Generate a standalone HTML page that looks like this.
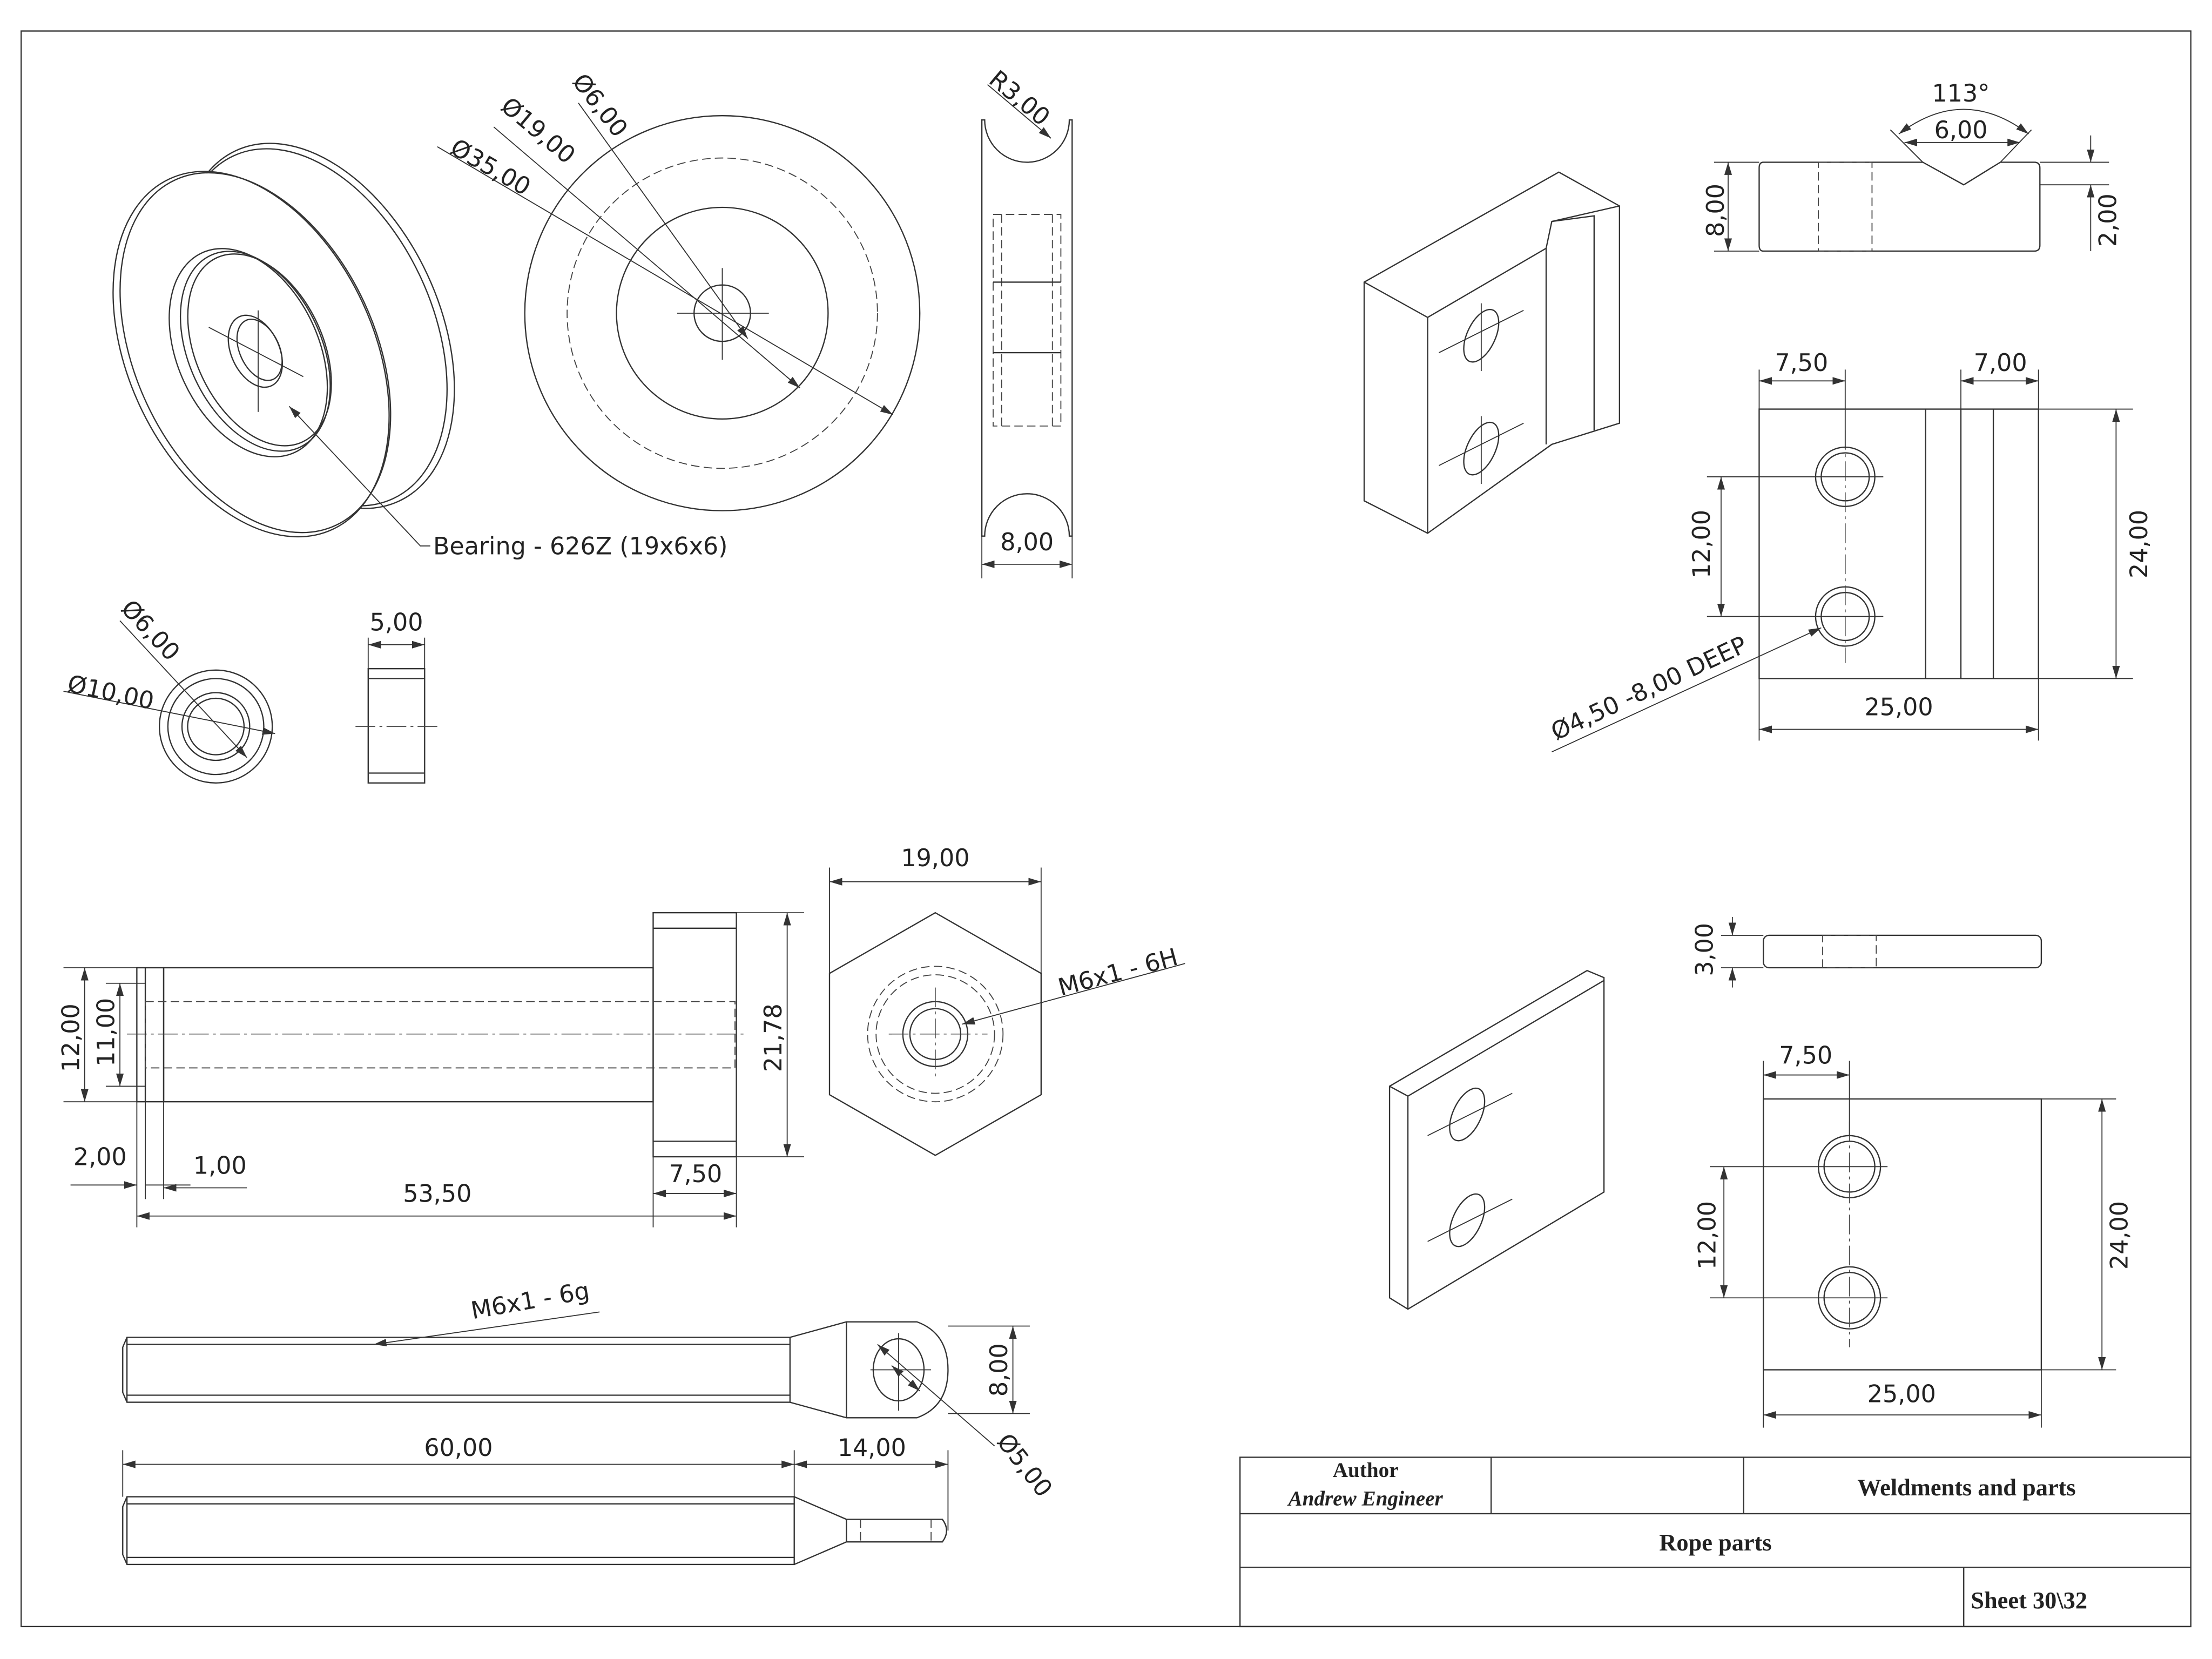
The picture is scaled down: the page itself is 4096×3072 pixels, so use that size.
<!DOCTYPE html>
<html><head><meta charset="utf-8"><style>
html,body{margin:0;padding:0;background:#fff;}
svg{display:block;}
text{font-family:"DejaVu Sans","Liberation Sans",sans-serif;font-size:17px;fill:#222;}
.t{font-family:"Liberation Serif",serif;font-weight:bold;font-size:17px;}
.s{fill:none;stroke:#333;stroke-width:0.9;}
.w{fill:#fff;stroke:#333;stroke-width:0.9;}
.d{fill:none;stroke:#333;stroke-width:0.7;}
.h{fill:none;stroke:#444;stroke-width:0.7;stroke-dasharray:6 3;}
.c{fill:none;stroke:#444;stroke-width:0.6;stroke-dasharray:14 3 2 3;}
</style></head><body>
<svg width="4096" height="3072" viewBox="0 0 1568 1176" xmlns="http://www.w3.org/2000/svg">
<defs><marker id="a" viewBox="0 0 10 10" refX="10" refY="5" markerWidth="9" markerHeight="9" orient="auto-start-reverse" markerUnits="userSpaceOnUse"><path d="M0,2 L10,5 L0,8z" fill="#333"/></marker></defs>
<rect x="0" y="0" width="1568" height="1176" fill="#fff"/>
<rect x="15" y="22" width="1538" height="1131" class="s"/>
<!-- title block -->
<rect x="879" y="1033" width="674" height="120" class="s"/>
<line x1="879" y1="1073" x2="1553" y2="1073" class="s"/>
<line x1="879" y1="1111" x2="1553" y2="1111" class="s"/>
<line x1="1057" y1="1033" x2="1057" y2="1073" class="s"/>
<line x1="1236" y1="1033" x2="1236" y2="1073" class="s"/>
<line x1="1392" y1="1111" x2="1392" y2="1153" class="s"/>
<text x="968" y="1047" text-anchor="middle" class="t" style="font-size:15px">Author</text>
<text x="968" y="1067" text-anchor="middle" class="t" style="font-size:15px;font-style:italic">Andrew Engineer</text>
<text x="1394" y="1060" text-anchor="middle" class="t">Weldments and parts</text>
<text x="1216" y="1099" text-anchor="middle" class="t">Rope parts</text>
<text x="1397" y="1140" class="t">Sheet  30\32</text>

<!-- pulley iso -->
<ellipse cx="225" cy="231" rx="137" ry="86" transform="rotate(65 225 231)" class="w"/>
<ellipse cx="222" cy="232" rx="134" ry="84" transform="rotate(65 222 232)" class="s"/>
<ellipse cx="178" cy="251" rx="137" ry="87" transform="rotate(65 178 251)" class="w"/>
<ellipse cx="181" cy="250" rx="135" ry="85" transform="rotate(65 181 250)" class="s"/>
<ellipse cx="176" cy="250" rx="78" ry="50" transform="rotate(65 176 250)" class="s"/>
<ellipse cx="181" cy="249" rx="75" ry="47" transform="rotate(65 181 249)" class="s"/>
<ellipse cx="184" cy="248" rx="72" ry="45" transform="rotate(65 184 248)" class="s"/>
<ellipse cx="181" cy="249" rx="27" ry="17" transform="rotate(65 181 249)" class="s"/>
<ellipse cx="184" cy="248" rx="23" ry="14" transform="rotate(65 184 248)" class="s"/>
<line x1="148" y1="232" x2="215" y2="267" class="d"/>
<line x1="183" y1="220" x2="183" y2="292" class="d"/>
<polyline points="205,288 298,387 305,387" class="d" marker-start="url(#a)"/>
<text x="307" y="393">Bearing - 626Z (19x6x6)</text>

<!-- pulley front -->
<circle cx="512" cy="222" r="140" class="s"/>
<circle cx="512" cy="222" r="110" class="h"/>
<circle cx="512" cy="222" r="75" class="s"/>
<circle cx="512" cy="222" r="20" class="s"/>
<line x1="480" y1="222" x2="545" y2="222" class="d"/>
<line x1="512" y1="190" x2="512" y2="255" class="d"/>
<line x1="310" y1="104" x2="633" y2="294" class="d" marker-end="url(#a)"/>
<line x1="350" y1="90" x2="567" y2="275" class="d" marker-end="url(#a)"/>
<line x1="410" y1="73" x2="530" y2="240" class="d" marker-end="url(#a)"/>
<text transform="translate(318,108) rotate(30)">Ø35,00</text>
<text transform="translate(354,77) rotate(40)">Ø19,00</text>
<text transform="translate(405,58) rotate(52)">Ø6,00</text>

<!-- pulley side -->
<path d="M696,85 L698,85 A30,30 0 0 0 758,85 L760,85 L760,380 L758,380 A30,30 0 0 0 698,380 L696,380 Z" class="s"/>
<rect x="704" y="152" width="48" height="150" class="h"/>
<line x1="710" y1="152" x2="710" y2="302" class="h"/>
<line x1="746" y1="152" x2="746" y2="302" class="h"/>
<line x1="704" y1="200" x2="752" y2="200" class="s"/>
<line x1="704" y1="250" x2="752" y2="250" class="s"/>
<line x1="696" y1="380" x2="696" y2="410" class="d"/><line x1="760" y1="380" x2="760" y2="410" class="d"/>
<line x1="696" y1="400" x2="760" y2="400" class="d" marker-start="url(#a)" marker-end="url(#a)"/>
<text x="728" y="390" text-anchor="middle">8,00</text>
<line x1="700" y1="60" x2="745" y2="98" class="d" marker-end="url(#a)"/>
<text transform="translate(700,58) rotate(40)">R3,00</text>

<!-- bearing -->
<circle cx="153" cy="515" r="40" class="s"/>
<circle cx="153" cy="515" r="34" class="s"/>
<circle cx="153" cy="515" r="24" class="s"/>
<circle cx="153" cy="515" r="20" class="s"/>
<line x1="45" y1="490" x2="195" y2="520" class="d" marker-end="url(#a)"/>
<line x1="85" y1="440" x2="175" y2="537" class="d" marker-end="url(#a)"/>
<text transform="translate(47,490) rotate(12)">Ø10,00</text>
<text transform="translate(85,432) rotate(47)">Ø6,00</text>
<rect x="261" y="474" width="40" height="81" class="s"/>
<line x1="261" y1="481" x2="301" y2="481" class="s"/><line x1="261" y1="548" x2="301" y2="548" class="s"/>
<line x1="252" y1="515" x2="310" y2="515" class="c"/>
<line x1="261" y1="474" x2="261" y2="452" class="d"/><line x1="301" y1="474" x2="301" y2="452" class="d"/>
<line x1="261" y1="457" x2="301" y2="457" class="d" marker-start="url(#a)" marker-end="url(#a)"/>
<text x="281" y="447" text-anchor="middle">5,00</text>

<!-- block iso -->
<polygon points="967,200 1105,122 1148,146 1148,300 1100,315 1012,378 967,355" class="s"/>
<polyline points="967,200 1012,225 1012,378" class="s"/>
<polyline points="1012,225 1096,176 1100,157 1148,146" class="s"/>
<polyline points="1096,176 1096,315" class="s"/>
<polyline points="1100,157 1130,153 1130,305" class="s"/>
<ellipse cx="1050" cy="238" rx="10" ry="20" transform="rotate(25 1050 238)" class="s"/>
<ellipse cx="1050" cy="318" rx="10" ry="20" transform="rotate(25 1050 318)" class="s"/>
<line x1="1020" y1="250" x2="1080" y2="220" class="d"/><line x1="1050" y1="215" x2="1050" y2="263" class="d"/>
<line x1="1020" y1="330" x2="1080" y2="300" class="d"/><line x1="1050" y1="295" x2="1050" y2="343" class="d"/>

<!-- block top -->
<path d="M1250,115 L1363,115 L1392,131 L1418,115 L1442,115 Q1446,115 1446,119 L1446,174 Q1446,178 1442,178 L1250,178 Q1247,178 1247,174 L1247,119 Q1247,115 1250,115Z" class="s"/>
<rect x="1289" y="115" width="38" height="63" class="h"/>
<line x1="1247" y1="115" x2="1215" y2="115" class="d"/><line x1="1247" y1="178" x2="1215" y2="178" class="d"/>
<line x1="1225" y1="115" x2="1225" y2="178" class="d" marker-start="url(#a)" marker-end="url(#a)"/>
<text transform="translate(1222,168) rotate(-90)">8,00</text>
<line x1="1446" y1="115" x2="1495" y2="115" class="d"/><line x1="1446" y1="131" x2="1495" y2="131" class="d"/>
<line x1="1482" y1="96" x2="1482" y2="115" class="d" marker-end="url(#a)"/><line x1="1482" y1="178" x2="1482" y2="131" class="d" marker-end="url(#a)"/>
<text transform="translate(1500,175) rotate(-90)">2,00</text>
<line x1="1363" y1="115" x2="1340" y2="92" class="d"/><line x1="1418" y1="115" x2="1440" y2="92" class="d"/>
<line x1="1350" y1="101" x2="1432" y2="101" class="d" marker-start="url(#a)" marker-end="url(#a)"/>
<path d="M1346,95 Q1392,60 1438,95" class="d" marker-start="url(#a)" marker-end="url(#a)"/>
<text x="1390" y="98" text-anchor="middle">6,00</text>
<text x="1390" y="72" text-anchor="middle">113°</text>

<!-- block front -->
<rect x="1247" y="290" width="198" height="191" class="s"/>
<line x1="1365" y1="290" x2="1365" y2="481" class="s"/><line x1="1390" y1="290" x2="1390" y2="481" class="s"/><line x1="1413" y1="290" x2="1413" y2="481" class="s"/>
<circle cx="1308" cy="338" r="21" class="s"/><circle cx="1308" cy="338" r="17" class="s"/>
<circle cx="1308" cy="437" r="21" class="s"/><circle cx="1308" cy="437" r="17" class="s"/>
<line x1="1308" y1="305" x2="1308" y2="470" class="c"/>
<line x1="1210" y1="338" x2="1335" y2="338" class="d"/><line x1="1210" y1="437" x2="1335" y2="437" class="d"/>
<line x1="1220" y1="338" x2="1220" y2="437" class="d" marker-start="url(#a)" marker-end="url(#a)"/>
<text transform="translate(1212,410) rotate(-90)">12,00</text>
<line x1="1247" y1="290" x2="1247" y2="262" class="d"/><line x1="1308" y1="318" x2="1308" y2="262" class="d"/>
<line x1="1247" y1="270" x2="1308" y2="270" class="d" marker-start="url(#a)" marker-end="url(#a)"/>
<text x="1277" y="263" text-anchor="middle">7,50</text>
<line x1="1390" y1="290" x2="1390" y2="262" class="d"/><line x1="1445" y1="290" x2="1445" y2="262" class="d"/>
<line x1="1390" y1="270" x2="1445" y2="270" class="d" marker-start="url(#a)" marker-end="url(#a)"/>
<text x="1418" y="263" text-anchor="middle">7,00</text>
<line x1="1445" y1="290" x2="1512" y2="290" class="d"/><line x1="1445" y1="481" x2="1512" y2="481" class="d"/>
<line x1="1500" y1="290" x2="1500" y2="481" class="d" marker-start="url(#a)" marker-end="url(#a)"/>
<text transform="translate(1522,410) rotate(-90)">24,00</text>
<line x1="1247" y1="481" x2="1247" y2="525" class="d"/><line x1="1445" y1="481" x2="1445" y2="525" class="d"/>
<line x1="1247" y1="517" x2="1445" y2="517" class="d" marker-start="url(#a)" marker-end="url(#a)"/>
<text x="1346" y="507" text-anchor="middle">25,00</text>
<line x1="1100" y1="533" x2="1291" y2="445" class="d" marker-end="url(#a)"/>
<text transform="translate(1103,525) rotate(-25)">Ø4,50 -8,00 DEEP</text>

<!-- axle -->
<rect x="463" y="647" width="59" height="173" class="s"/>
<line x1="463" y1="658" x2="522" y2="658" class="s"/><line x1="463" y1="809" x2="522" y2="809" class="s"/>
<rect x="116" y="686" width="347" height="95" class="s"/>
<rect x="97" y="686" width="19" height="95" class="s"/>
<line x1="103" y1="686" x2="103" y2="781" class="s"/>
<rect x="103" y="710" width="418" height="47" class="h"/>
<line x1="90" y1="733" x2="530" y2="733" class="c"/>
<line x1="97" y1="686" x2="45" y2="686" class="d"/><line x1="97" y1="781" x2="45" y2="781" class="d"/>
<line x1="60" y1="686" x2="60" y2="781" class="d" marker-start="url(#a)" marker-end="url(#a)"/>
<text transform="translate(56,760) rotate(-90)">12,00</text>
<line x1="103" y1="697" x2="75" y2="697" class="d"/><line x1="103" y1="770" x2="75" y2="770" class="d"/>
<line x1="85" y1="697" x2="85" y2="770" class="d" marker-start="url(#a)" marker-end="url(#a)"/>
<text transform="translate(81,756) rotate(-90)">11,00</text>
<line x1="522" y1="647" x2="570" y2="647" class="d"/><line x1="522" y1="820" x2="570" y2="820" class="d"/>
<line x1="558" y1="647" x2="558" y2="820" class="d" marker-start="url(#a)" marker-end="url(#a)"/>
<text transform="translate(554,760) rotate(-90)">21,78</text>
<line x1="97" y1="781" x2="97" y2="870" class="d"/><line x1="103" y1="781" x2="103" y2="850" class="d"/><line x1="116" y1="781" x2="116" y2="850" class="d"/>
<line x1="463" y1="820" x2="463" y2="870" class="d"/><line x1="522" y1="820" x2="522" y2="870" class="d"/>
<line x1="50" y1="840" x2="97" y2="840" class="d" marker-end="url(#a)"/><line x1="135" y1="840" x2="103" y2="840" class="d"/>
<line x1="175" y1="842" x2="116" y2="842" class="d" marker-end="url(#a)"/>
<text x="52" y="826">2,00</text><text x="137" y="832">1,00</text>
<line x1="463" y1="846" x2="522" y2="846" class="d" marker-start="url(#a)" marker-end="url(#a)"/>
<text x="493" y="838" text-anchor="middle">7,50</text>
<line x1="97" y1="862" x2="522" y2="862" class="d" marker-start="url(#a)" marker-end="url(#a)"/>
<text x="310" y="852" text-anchor="middle">53,50</text>

<!-- hex -->
<polygon points="663,647 738,690 738,776 663,819 588,776 588,690" class="s"/>
<circle cx="663" cy="733" r="48" class="h"/><circle cx="663" cy="733" r="42" class="h"/>
<circle cx="663" cy="733" r="23" class="s"/><circle cx="663" cy="733" r="18" class="s"/>
<line x1="630" y1="733" x2="700" y2="733" class="c"/><line x1="663" y1="700" x2="663" y2="766" class="c"/>
<line x1="588" y1="690" x2="588" y2="615" class="d"/><line x1="738" y1="690" x2="738" y2="615" class="d"/>
<line x1="588" y1="625" x2="738" y2="625" class="d" marker-start="url(#a)" marker-end="url(#a)"/>
<text x="663" y="614" text-anchor="middle">19,00</text>
<line x1="840" y1="683" x2="682" y2="726" class="d" marker-end="url(#a)"/>
<text transform="translate(752,706) rotate(-15)">M6x1 - 6H</text>

<!-- rod top -->
<path d="M90,948 L560,948 L560,994 L90,994 L87,987 L87,955 Z" class="s"/>
<line x1="90" y1="948" x2="90" y2="994" class="s"/>
<line x1="90" y1="953" x2="560" y2="953" class="s"/><line x1="90" y1="989" x2="560" y2="989" class="s"/>
<path d="M560,948 L600,937 L650,937 Q672,945 672,971 Q672,997 650,1005 L600,1005 L560,994" class="s"/>
<line x1="600" y1="937" x2="600" y2="1005" class="s"/>
<ellipse cx="637" cy="971" rx="18" ry="22" class="s"/>
<line x1="617" y1="971" x2="660" y2="971" class="d"/><line x1="637" y1="945" x2="637" y2="1000" class="d"/>
<line x1="425" y1="930" x2="265" y2="953" class="d" marker-end="url(#a)"/>
<text transform="translate(335,935) rotate(-10)">M6x1 - 6g</text>
<line x1="672" y1="940" x2="730" y2="940" class="d"/><line x1="672" y1="1002" x2="730" y2="1002" class="d"/>
<line x1="718" y1="940" x2="718" y2="1002" class="d" marker-start="url(#a)" marker-end="url(#a)"/>
<text transform="translate(714,990) rotate(-90)">8,00</text>
<line x1="622" y1="953" x2="705" y2="1025" class="d" marker-start="url(#a)"/>
<line x1="652" y1="986" x2="632" y2="968" class="d" marker-end="url(#a)" marker-start="url(#a)"/>
<text transform="translate(706,1022) rotate(52)">Ø5,00</text>
<!-- rod side -->
<path d="M90,1061 L563,1061 L563,1109 L90,1109 L87,1102 L87,1068 Z" class="s"/>
<line x1="90" y1="1061" x2="90" y2="1109" class="s"/>
<line x1="90" y1="1066" x2="563" y2="1066" class="s"/><line x1="90" y1="1104" x2="563" y2="1104" class="s"/>
<path d="M563,1061 L600,1077 L668,1077 Q674,1085 668,1093 L600,1093 L563,1109" class="s"/>
<line x1="600" y1="1077" x2="600" y2="1093" class="s"/>
<line x1="610" y1="1077" x2="610" y2="1093" class="h"/><line x1="660" y1="1077" x2="660" y2="1093" class="h"/>
<line x1="87" y1="1061" x2="87" y2="1028" class="d"/><line x1="563" y1="1061" x2="563" y2="1028" class="d"/><line x1="672" y1="1085" x2="672" y2="1028" class="d"/>
<line x1="87" y1="1038" x2="563" y2="1038" class="d" marker-start="url(#a)" marker-end="url(#a)"/>
<line x1="563" y1="1038" x2="672" y2="1038" class="d" marker-start="url(#a)" marker-end="url(#a)"/>
<text x="325" y="1032" text-anchor="middle">60,00</text><text x="618" y="1032" text-anchor="middle">14,00</text>

<!-- plate iso -->
<polygon points="985,770 1125,688 1137,693 1137,845 998,928 985,920" class="s"/>
<polyline points="985,770 998,777 998,928" class="s"/><line x1="998" y1="777" x2="1137" y2="695" class="s"/>
<ellipse cx="1040" cy="790" rx="10" ry="20" transform="rotate(25 1040 790)" class="s"/>
<ellipse cx="1040" cy="865" rx="10" ry="20" transform="rotate(25 1040 865)" class="s"/>
<line x1="1012" y1="805" x2="1072" y2="775" class="d"/><line x1="1012" y1="880" x2="1072" y2="850" class="d"/>
<!-- plate top -->
<rect x="1250" y="663" width="197" height="23" rx="4" class="s"/>
<rect x="1292" y="663" width="38" height="23" class="h"/>
<line x1="1250" y1="663" x2="1220" y2="663" class="d"/><line x1="1250" y1="686" x2="1220" y2="686" class="d"/>
<line x1="1228" y1="650" x2="1228" y2="663" class="d" marker-end="url(#a)"/><line x1="1228" y1="700" x2="1228" y2="686" class="d" marker-end="url(#a)"/>
<text transform="translate(1214,692) rotate(-90)">3,00</text>
<!-- plate front -->
<rect x="1250" y="779" width="197" height="192" class="s"/>
<circle cx="1311" cy="827" r="22" class="s"/><circle cx="1311" cy="827" r="18" class="s"/>
<circle cx="1311" cy="920" r="22" class="s"/><circle cx="1311" cy="920" r="18" class="s"/>
<line x1="1311" y1="795" x2="1311" y2="955" class="c"/>
<line x1="1212" y1="827" x2="1338" y2="827" class="d"/><line x1="1212" y1="920" x2="1338" y2="920" class="d"/>
<line x1="1222" y1="827" x2="1222" y2="920" class="d" marker-start="url(#a)" marker-end="url(#a)"/>
<text transform="translate(1216,900) rotate(-90)">12,00</text>
<line x1="1250" y1="779" x2="1250" y2="752" class="d"/><line x1="1311" y1="805" x2="1311" y2="752" class="d"/>
<line x1="1250" y1="762" x2="1311" y2="762" class="d" marker-start="url(#a)" marker-end="url(#a)"/>
<text x="1280" y="754" text-anchor="middle">7,50</text>
<line x1="1447" y1="779" x2="1500" y2="779" class="d"/><line x1="1447" y1="971" x2="1500" y2="971" class="d"/>
<line x1="1490" y1="779" x2="1490" y2="971" class="d" marker-start="url(#a)" marker-end="url(#a)"/>
<text transform="translate(1508,900) rotate(-90)">24,00</text>
<line x1="1250" y1="971" x2="1250" y2="1012" class="d"/><line x1="1447" y1="971" x2="1447" y2="1012" class="d"/>
<line x1="1250" y1="1003" x2="1447" y2="1003" class="d" marker-start="url(#a)" marker-end="url(#a)"/>
<text x="1348" y="994" text-anchor="middle">25,00</text>
</svg>
</body></html>
